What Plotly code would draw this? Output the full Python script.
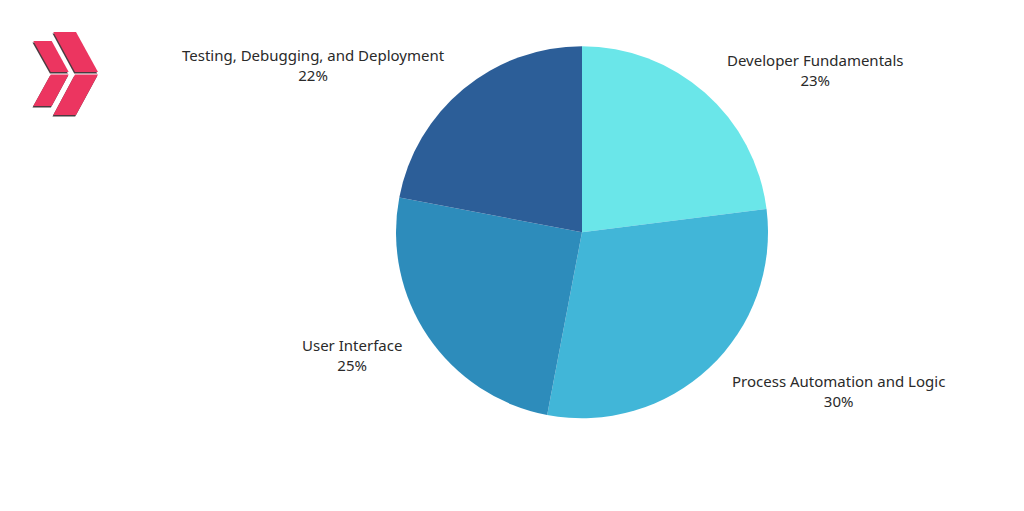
import plotly.graph_objects as go

categories = ["Developer Fundamentals", "Process Automation and Logic", "User Interface", "Testing, Debugging, and Deployment"]
values = [23, 30, 25, 22]
colors = ["#6AE6E9", "#41B6D8", "#2D8CBB", "#2C5E98"]

W, H = 1024, 511
CX = [815, 838.5, 352, 313]
CY = [70, 391, 355, 65]
FONT = dict(family="Noto Sans", size=15, color="#2A2A2A")

LOGO = [
    [(53.3, 32), (76, 32), (98, 72), (75, 72)],
    [(75, 74.5), (98, 74.5), (76, 115), (53.3, 115)],
    [(33.3, 41), (51.7, 41), (68.7, 72), (50.7, 72)],
    [(50.7, 74.5), (68.7, 74.5), (51.7, 106), (33.3, 106)],
]


def path(points, dx=0.0, dy=0.0):
    coords = [f"{(x + dx) / W:.5f},{1 - (y + dy) / H:.5f}" for x, y in points]
    return "M" + " L".join(coords) + " Z"


shapes = []
for poly in LOGO:
    shapes.append(dict(type="path", xref="paper", yref="paper", path=path(poly, -0.8, 1.6),
                       fillcolor="#4A3A40", line_width=0))
for poly in LOGO:
    shapes.append(dict(type="path", xref="paper", yref="paper", path=path(poly),
                       fillcolor="#EC3560", line_width=0))

annotations = [
    dict(x=x / W, y=1 - y / H, xref="paper", yref="paper", showarrow=False, align="center",
         xanchor="center", yanchor="middle", text=f"{name}<br>{val}%", font=FONT)
    for name, val, x, y in zip(categories, values, CX, CY)
]

fig = go.Figure(go.Pie(
    labels=categories, values=values, sort=False, direction="clockwise", rotation=0,
    marker=dict(colors=colors, line_width=0), textinfo="none", hoverinfo="label+percent",
    domain=dict(x=[396 / W, 768 / W], y=[1 - 418.5 / H, 1 - 46 / H]),
))
fig.update_layout(width=W, height=H, margin=dict(l=0, r=0, t=0, b=0), showlegend=False,
                  paper_bgcolor="white", shapes=shapes, annotations=annotations)
fig.write_html("out.html", config=dict(displayModeBar=False),
               post_script="document.body.style.margin='0';document.body.style.overflow='hidden';")
